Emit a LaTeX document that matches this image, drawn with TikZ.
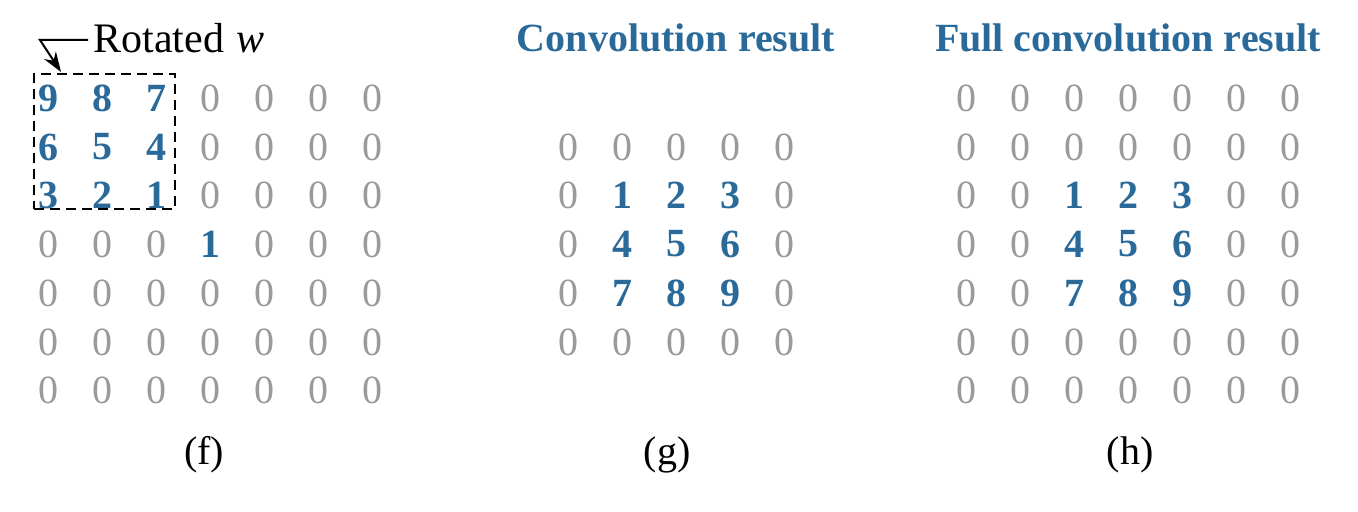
\documentclass[tikz,border=0pt]{standalone}
\usepackage{fontspec}
\setmainfont{Liberation Serif}
\usetikzlibrary{arrows.meta}
\definecolor{cblue}{HTML}{2A6A9A}
\definecolor{cgrey}{HTML}{9A9A9A}
\tikzset{
  zero/.style={inner sep=0pt, text=cgrey, font=\fontsize{20}{24}\selectfont},
  val/.style={inner sep=0pt, text=cblue, font=\fontsize{20}{24}\selectfont\bfseries},
  ttl/.style={inner sep=0pt, text=cblue, font=\fontsize{20}{24}\selectfont\bfseries},
  captxt/.style={inner sep=0pt, font=\fontsize{20}{24}\selectfont},
}
\begin{document}
\begin{tikzpicture}[x=0.5pt,y=-0.5pt]
\useasboundingbox (0,0) rectangle (1358,512);
% panel f
\foreach \r/\y in {0/98,1/147,2/195,3/244,4/293,5/342,6/390}{
  \foreach \c/\x in {0/48,1/102,2/156,3/210,4/264,5/318,6/372}{
    \pgfmathtruncatemacro{\v}{(\r<3 && \c<3) ? 9-3*\r-\c : ((\r==3 && \c==3) ? 1 : 0)}
    \ifnum\v=0
      \node[zero] (f-\r-\c) at (\x,\y) {0};
    \else
      \node[val] (f-\r-\c) at (\x,\y) {\v};
    \fi
  }
}
\node[draw, line width=1.2pt, dash pattern=on 5pt off 3pt, inner sep=0pt, minimum width=141*0.5pt, minimum height=135*0.5pt] (box) at (104.5,141.5) {};
\node[captxt, font=\fontsize{21}{24}\selectfont, anchor=west] (rot) at (93,38) {Rotated \kern1pt\textit{w}};
\coordinate (start) at (88,40);
\coordinate (bend) at (40,40);
\coordinate (tip) at (61,72);
\draw[line width=1pt, -{Stealth[length=10pt,width=7pt]}] (start) -- (bend) -- (tip);
\node[captxt] (capf) at (204,455) {(f)};
% panel g
\node[ttl] (tg) at (676,38) {Convolution result};
\foreach \r/\y in {0/147,1/195,2/244,3/293,4/342}{
  \foreach \c/\x in {0/568,1/622,2/676,3/730,4/784}{
    \pgfmathtruncatemacro{\v}{(\r>0 && \r<4 && \c>0 && \c<4) ? 3*(\r-1)+\c : 0}
    \ifnum\v=0
      \node[zero] (g-\r-\c) at (\x,\y) {0};
    \else
      \node[val] (g-\r-\c) at (\x,\y) {\v};
    \fi
  }
}
\node[captxt] (capg) at (667,455) {(g)};
% panel h
\node[ttl] (th) at (1128,38) {Full convolution result};
\foreach \r/\y in {0/98,1/147,2/195,3/244,4/293,5/342,6/390}{
  \foreach \c/\x in {0/966,1/1020,2/1074,3/1128,4/1182,5/1236,6/1290}{
    \pgfmathtruncatemacro{\v}{(\r>1 && \r<5 && \c>1 && \c<5) ? 3*(\r-2)+\c-1 : 0}
    \ifnum\v=0
      \node[zero] (h-\r-\c) at (\x,\y) {0};
    \else
      \node[val] (h-\r-\c) at (\x,\y) {\v};
    \fi
  }
}
\node[captxt] (caph) at (1130,455) {(h)};
\end{tikzpicture}
\end{document}
